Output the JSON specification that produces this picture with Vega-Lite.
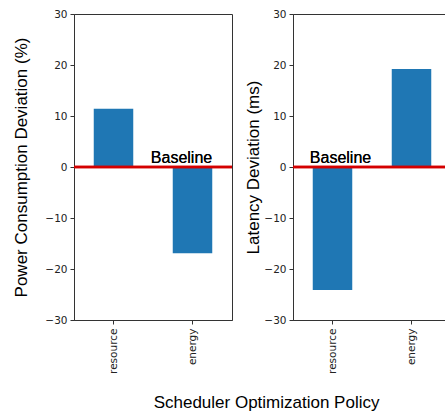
{
  "$schema": "https://vega.github.io/schema/vega-lite/v6.json",
  "background": "white",
  "padding": {"left": 12, "top": 8, "right": 0, "bottom": 4},
  "datasets": {
    "power": [
      {"policy": "resource", "value": 11.4},
      {"policy": "energy", "value": -16.9}
    ],
    "latency": [
      {"policy": "resource", "value": -24.1},
      {"policy": "energy", "value": 19.2}
    ]
  },
  "title": {
    "text": "Scheduler Optimization Policy",
    "orient": "bottom",
    "anchor": "middle",
    "font": "Liberation Sans",
    "fontSize": 17,
    "fontWeight": "normal",
    "color": "black",
    "offset": 21,
    "dx": 34
  },
  "spacing": 10,
  "hconcat": [
    {
      "width": 158,
      "height": 306,
      "data": {"name": "power"},
      "layer": [
        {
          "mark": {"type": "bar", "color": "#1f77b4"},
          "encoding": {
            "x": {"field": "policy", "type": "nominal", "sort": ["resource", "energy"], "title": null,
                  "scale": {"paddingInner": 0.5, "paddingOuter": 0.25}},
            "y": {"field": "value", "type": "quantitative", "title": "Power Consumption Deviation (%)",
                  "scale": {"domain": [-30, 30], "nice": false},
                  "axis": {"titlePadding": 14}}
          }
        },
        {
          "mark": {"type": "rule", "color": "#d40000", "strokeWidth": 2.5},
          "encoding": {"y": {"datum": 0}}
        },
        {
          "mark": {"type": "text", "text": "Baseline", "font": "Liberation Sans", "fontSize": 16, "fontWeight": 400, "align": "center", "baseline": "alphabetic", "dx": -11, "dy": -4, "color": "black"},
          "encoding": {"x": {"datum": "energy"}, "y": {"datum": 0}}
        }
      ]
    },
    {
      "width": 158,
      "height": 306,
      "data": {"name": "latency"},
      "layer": [
        {
          "mark": {"type": "bar", "color": "#1f77b4"},
          "encoding": {
            "x": {"field": "policy", "type": "nominal", "sort": ["resource", "energy"], "title": null,
                  "scale": {"paddingInner": 0.5, "paddingOuter": 0.25}},
            "y": {"field": "value", "type": "quantitative", "title": "Latency Deviation (ms)",
                  "scale": {"domain": [-30, 30], "nice": false},
                  "axis": {"titlePadding": 1}}
          }
        },
        {
          "mark": {"type": "rule", "color": "#d40000", "strokeWidth": 2.5},
          "encoding": {"y": {"datum": 0}}
        },
        {
          "mark": {"type": "text", "text": "Baseline", "font": "Liberation Sans", "fontSize": 16, "fontWeight": 400, "align": "center", "baseline": "alphabetic", "dx": 8, "dy": -4, "color": "black"},
          "encoding": {"x": {"datum": "resource"}, "y": {"datum": 0}}
        }
      ]
    }
  ],
  "config": {
    "view": {"stroke": "#333", "strokeWidth": 1},
    "axis": {
      "grid": false,
      "domainColor": "#333",
      "tickColor": "#333",
      "tickSize": 4,
      "labelFont": "DejaVu Sans",
      "labelFontSize": 10.5,
      "labelColor": "#222",
      "titleFont": "Liberation Sans",
      "titleFontSize": 17,
      "titleFontWeight": "normal",
      "titleColor": "black"
    },
    "axisY": {"values": [-30, -20, -10, 0, 10, 20, 30], "labelPadding": 3},
    "axisX": {"labelAngle": -90, "labelPadding": 4}
  }
}
